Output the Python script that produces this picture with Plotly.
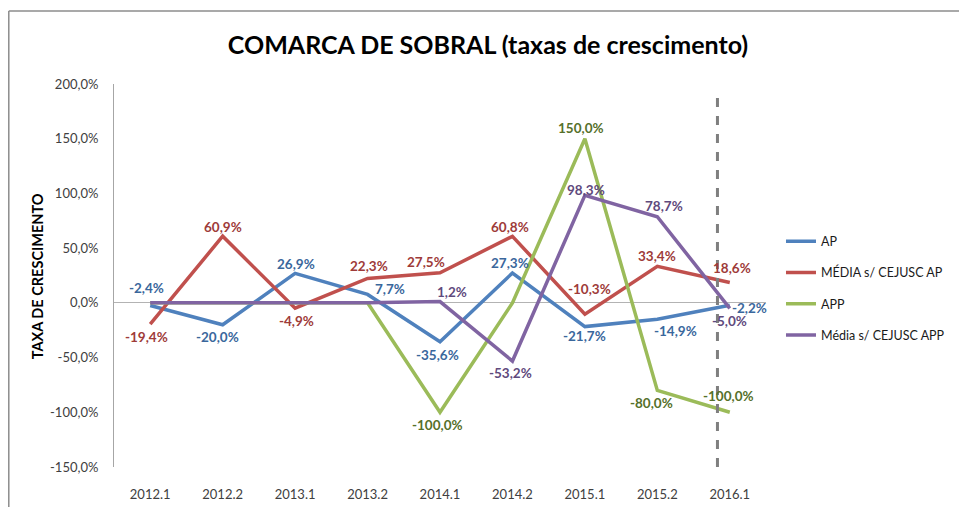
import plotly.graph_objects as go

categories = ["2012.1", "2012.2", "2013.1", "2013.2", "2014.1", "2014.2", "2015.1", "2015.2", "2016.1"]
ap = [-2.4, -20.0, 26.9, 7.7, -35.6, 27.3, -21.7, -14.9, -2.2]
media_ap = [-19.4, 60.9, -4.9, 22.3, 27.5, 60.8, -10.3, 33.4, 18.6]
app = [0.0, 0.0, 0.0, 0.0, -100.0, 0.0, 150.0, -80.0, -100.0]
media_app = [0.0, 0.0, 0.0, 0.0, 1.2, -53.2, 98.3, 78.7, -5.0]
y_ticks = [-150, -100, -50, 0, 50, 100, 150, 200]

FONT = "Lato"

# body margin is removed by post_script, so the figure fills the window
OFF = 0
W, H = 959, 507
PL, PR, PT, PB = 113.75, 766.0, 84.0, 467.0  # plot area in window pixels


def fmt(v):
    return f"{v:.1f}%".replace(".", ",")


def pxx(x):
    return (x - PL) / (PR - PL)


def pxy(y):
    return (PB - y) / (PB - PT)


# label pixel offsets (dx right, dy down) relative to each point; None = no label
ap_off = [(-4, -17), (-5, 12.5), (1, -9.5), (22, -5.5), (-3, 13), (-2.5, -9.5), (0, 9.5), (18.5, 11.5), (20, 2.5)]
media_ap_off = [(-3.5, 12.5), (0, -9), (1, 12.5), (1.5, -12), (-14, -11), (-2.5, -9), (5, -25.5), (0, -10), (2, -15)]
app_off = [None, None, None, None, (-3, 12.5), None, (-3.5, -10.5), (-5.5, 13), (-1, -16)]
media_app_off = [None, None, None, None, (12, -10), (-1.5, 11.5), (1, -5.5), (6.5, -11), (0, 12.5)]

series = [
    dict(name="AP", y=ap, color="#4F81BD", tcolor="#3A679C", off=ap_off),
    dict(name="MÉDIA s/ CEJUSC AP", y=media_ap, color="#C0504D", tcolor="#9E3B39", off=media_ap_off),
    dict(name="APP", y=app, color="#9BBB59", tcolor="#56702A", off=app_off),
    dict(name="Média s/ CEJUSC APP", y=media_app, color="#8064A2", tcolor="#5F4A7D", off=media_app_off),
]

fig = go.Figure()
for i, s in enumerate(series):
    fig.add_trace(go.Scatter(
        x=categories, y=s["y"], name=s["name"], mode="lines",
        line=dict(color=s["color"], width=3.5),
        legendgroup=f"g{i}", cliponaxis=False,
    ))

for s in series:
    for idx, (v, off) in enumerate(zip(s["y"], s["off"])):
        if off is None:
            continue
        fig.add_annotation(x=idx, y=v, xref="x", yref="y", text=fmt(v), showarrow=False,
                           xanchor="center", yanchor="middle", xshift=off[0], yshift=-off[1],
                           font=dict(family=FONT, size=13.5, color=s["tcolor"], weight="bold"))

fig.update_layout(
    width=W, height=H,
    margin=dict(l=PL - OFF, r=W - (PR - OFF), t=PT - OFF, b=H - (PB - OFF), autoexpand=False),
    paper_bgcolor="white", plot_bgcolor="white",
    separators=",.",
    font=dict(family=FONT, size=13, color="#404040"),
    title=dict(text="<b>COMARCA DE SOBRAL (taxas de crescimento)</b>",
               x=(488 - OFF) / W, xanchor="center", y=1 - (45 - OFF) / H, yanchor="middle",
               font=dict(family=FONT, size=25, color="#000000")),
    xaxis=dict(type="category", range=[-0.5, 8.5], showline=False, showgrid=False,
               zeroline=False, ticks="", ticklabelstandoff=18, automargin=False,
               tickfont=dict(family=FONT, size=13, color="#404040")),
    yaxis=dict(range=[-150, 200], tickvals=y_ticks, ticktext=[fmt(v) for v in y_ticks],
               showgrid=False, zeroline=True, zerolinecolor="#B3B3B3", zerolinewidth=1,
               showline=True, linecolor="#A6A6A6", linewidth=1, ticks="", automargin=False,
               ticklabelstandoff=12, tickfont=dict(family=FONT, size=13, color="#404040")),
    legend=dict(x=pxx(781), xanchor="left", y=pxy(288), yanchor="middle",
                font=dict(family=FONT, size=12.5, color="#1A1A1A"), tracegroupgap=12,
                traceorder="grouped", bgcolor="rgba(0,0,0,0)"),
    showlegend=True,
)

fig.add_annotation(text="<b>TAXA DE CRESCIMENTO</b>", textangle=-90,
                   xref="paper", yref="paper", x=pxx(37), y=pxy(276),
                   xanchor="center", yanchor="middle", showarrow=False,
                   font=dict(family=FONT, size=14.5, color="#000000"))

# dashed vertical marker near 2016.1
fig.add_shape(type="line", xref="x", yref="paper", x0=7.83, x1=7.83,
              y0=0, y1=pxy(97), line=dict(color="#7F7F7F", width=3, dash="dash"))

# outer chart frame (top and left edges visible)
fig.add_shape(type="line", xref="paper", yref="paper", x0=pxx(8.5), x1=pxx(970),
              y0=pxy(11), y1=pxy(11), line=dict(color="#8C8C8C", width=1.5))
fig.add_shape(type="line", xref="paper", yref="paper", x0=pxx(8.5), x1=pxx(8.5),
              y0=pxy(11), y1=pxy(520), line=dict(color="#8C8C8C", width=1.5))

fig.write_html("out.html", config={"displayModeBar": False},
               post_script="document.body.style.margin='0px';document.body.style.overflow='hidden';")
